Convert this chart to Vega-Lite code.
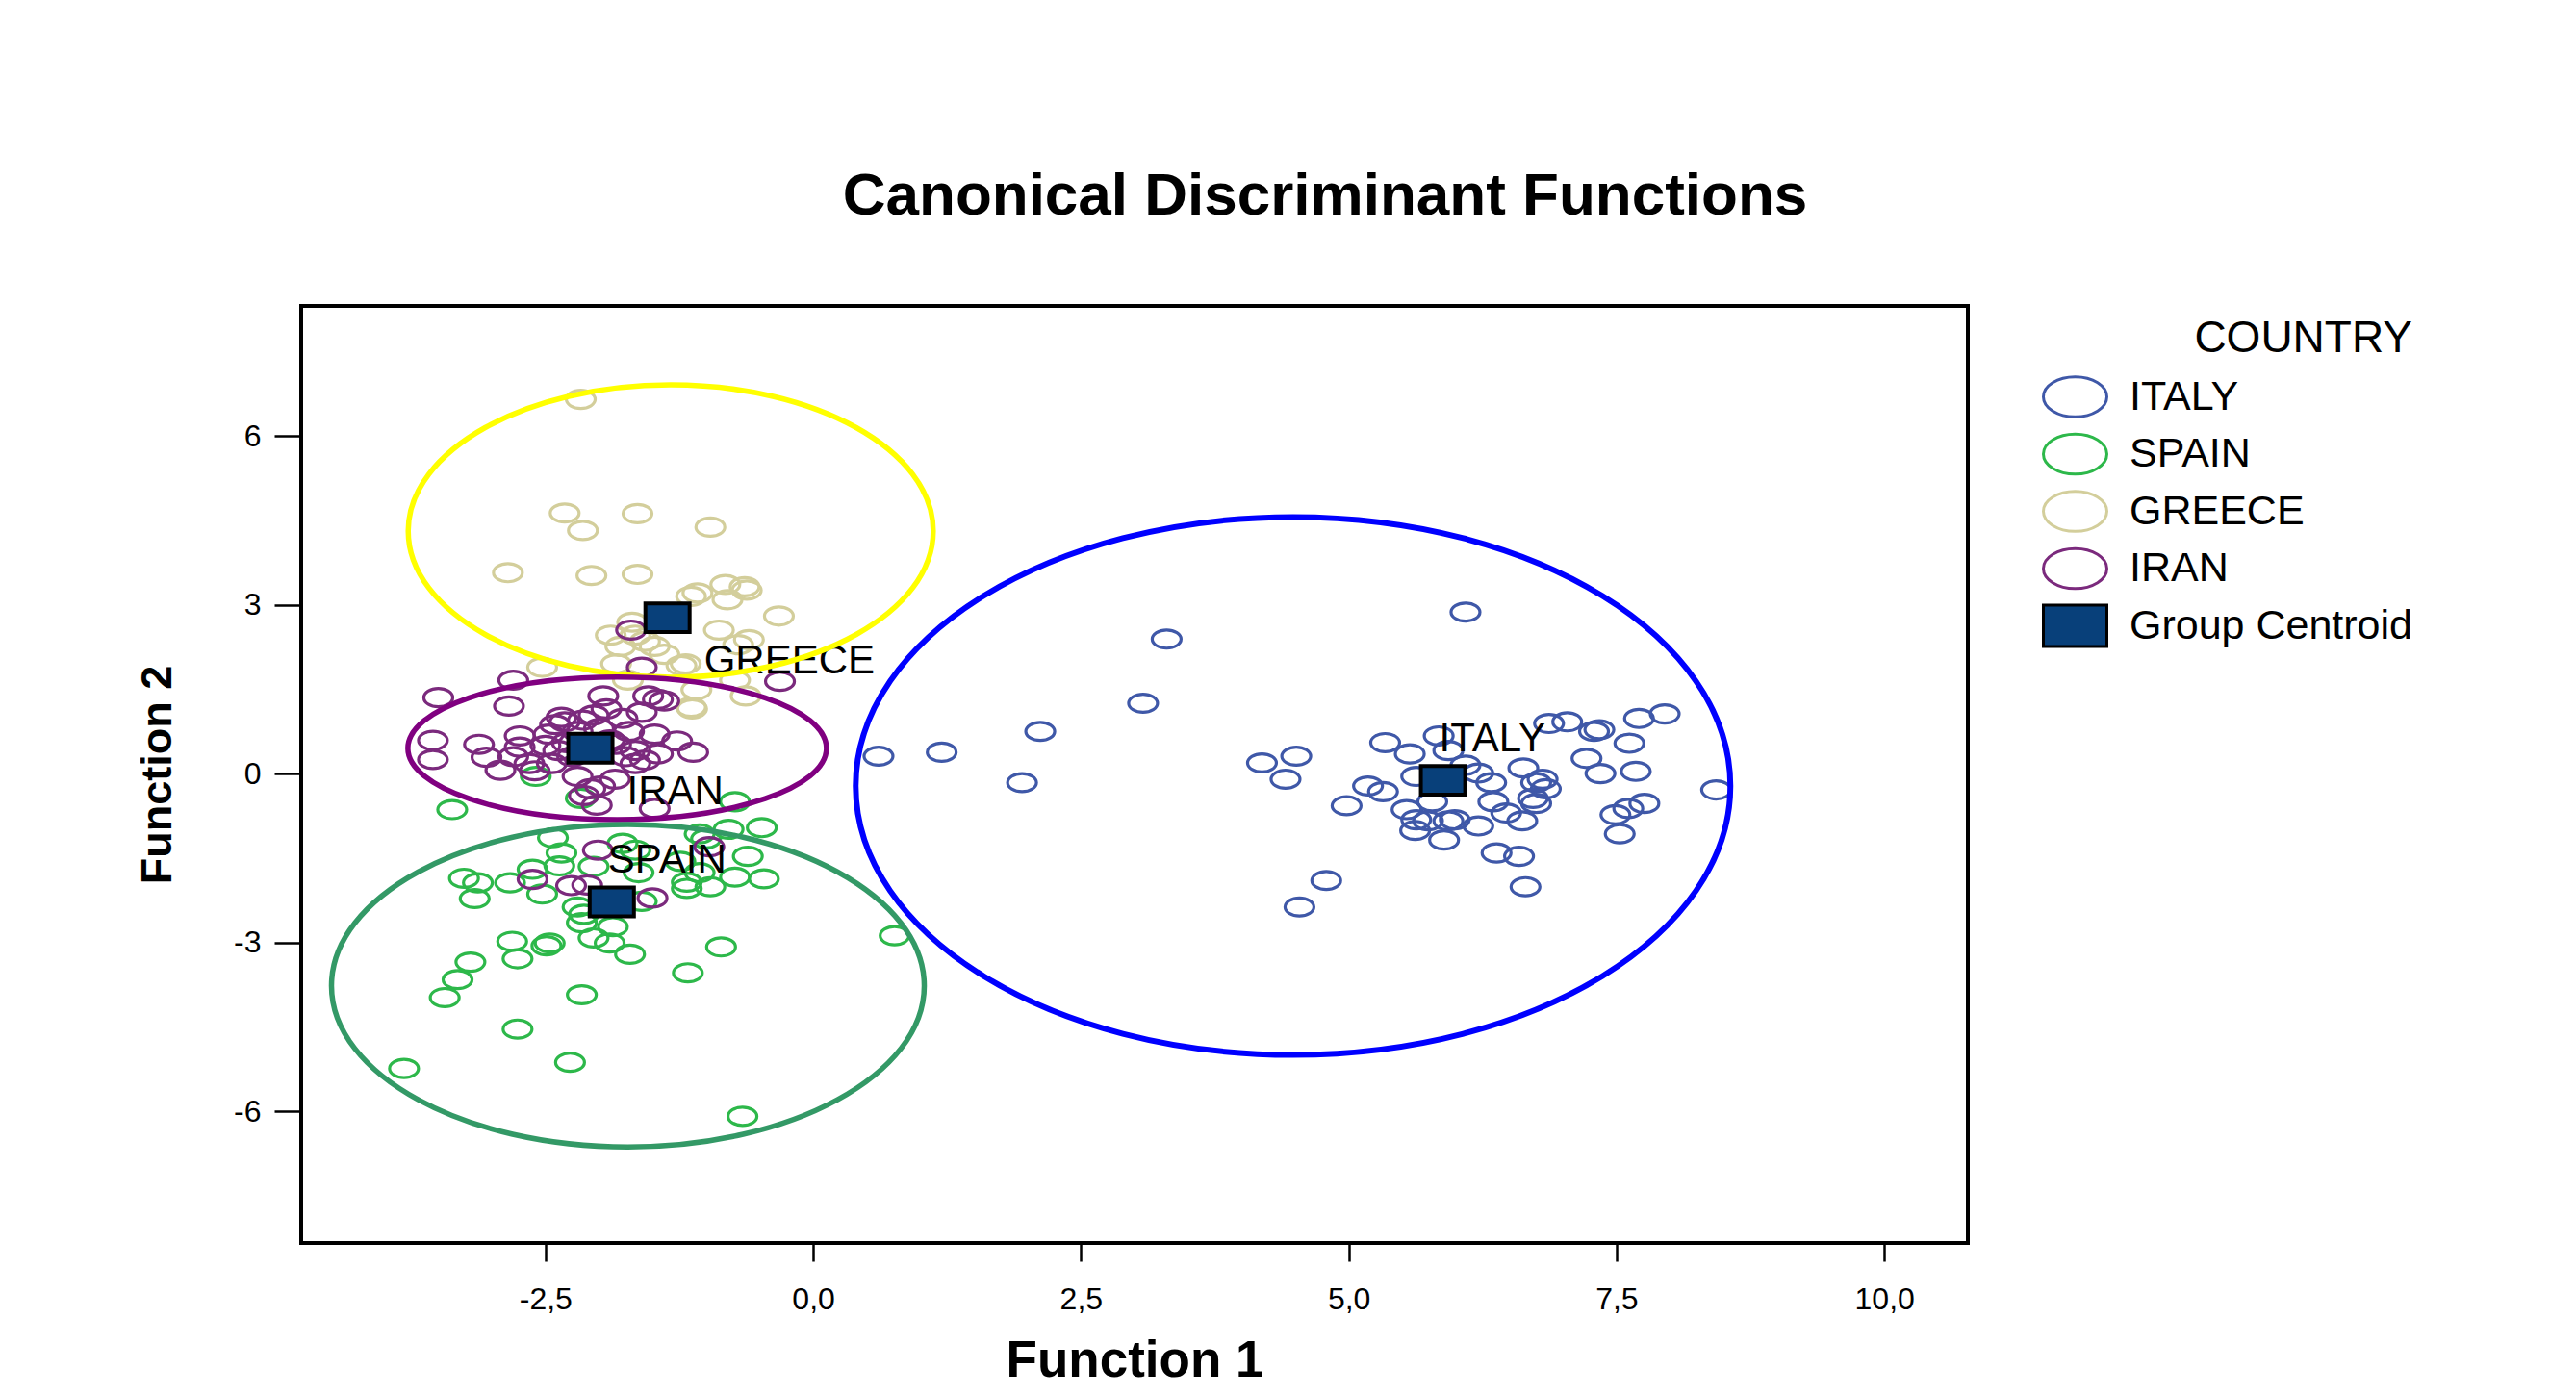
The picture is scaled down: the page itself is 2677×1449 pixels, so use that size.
{
  "$schema": "https://vega.github.io/schema/vega-lite/v6.json",
  "width": 1732,
  "height": 974,
  "autosize": {"type": "none"},
  "padding": {"left": 313, "top": 318, "right": 632, "bottom": 157},
  "background": "white",
  "title": {"text": "Canonical Discriminant Functions", "font": "Liberation Sans", "fontSize": 62, "fontWeight": "bold", "color": "black", "anchor": "middle", "frame": "group", "dx": 198, "offset": 82, "limit": 0},
  "config": {
    "view": {"stroke": "black", "strokeWidth": 4},
    "font": "Liberation Sans",
    "axis": {"domain": false, "grid": false, "tickColor": "black", "tickWidth": 2.5, "labelFont": "Liberation Sans", "labelFontSize": 32, "labelColor": "black", "titleFont": "Liberation Sans", "titleFontWeight": "bold", "titleColor": "black"},
    "axisX": {"tickSize": 19, "labelPadding": 24, "titlePadding": 22, "titleFontSize": 53},
    "axisY": {"tickSize": 28, "labelPadding": 14, "titlePadding": 56, "titleFontSize": 45},
    "legend": {"orient": "none", "legendX": 1809, "legendY": 12, "padding": 0, "titleFont": "Liberation Sans", "titleFontSize": 46, "titleFontWeight": "normal", "titleColor": "black", "titleAnchor": "end", "titlePadding": 11.5, "titleLimit": 0, "labelFont": "Liberation Sans", "labelFontSize": 43, "labelColor": "black", "labelLimit": 0, "symbolSize": 4356, "symbolStrokeWidth": 3, "labelOffset": 22, "clipHeight": 50, "rowPadding": 9.5}
  },
  "datasets": {
    "pts": [
      {"g":"ITALY","f1":3.30,"f2":2.39},{"g":"ITALY","f1":3.08,"f2":1.25},{"g":"ITALY","f1":2.12,"f2":0.75},{"g":"ITALY","f1":0.61,"f2":0.31},{"g":"ITALY","f1":1.20,"f2":0.38},{"g":"ITALY","f1":1.95,"f2":-0.16},{"g":"ITALY","f1":4.19,"f2":0.19},{"g":"ITALY","f1":4.51,"f2":0.31},{"g":"ITALY","f1":4.41,"f2":-0.10},{"g":"ITALY","f1":4.54,"f2":-2.37},{"g":"ITALY","f1":4.79,"f2":-1.90},{"g":"ITALY","f1":6.09,"f2":2.87},
      {"g":"ITALY","f1":5.34,"f2":0.55},{"g":"ITALY","f1":5.57,"f2":0.35},{"g":"ITALY","f1":5.84,"f2":0.67},{"g":"ITALY","f1":5.93,"f2":0.41},{"g":"ITALY","f1":5.63,"f2":-0.05},{"g":"ITALY","f1":5.18,"f2":-0.22},{"g":"ITALY","f1":5.32,"f2":-0.32},{"g":"ITALY","f1":4.98,"f2":-0.57},{"g":"ITALY","f1":5.54,"f2":-0.64},{"g":"ITALY","f1":5.63,"f2":-0.82},{"g":"ITALY","f1":5.62,"f2":-1.01},{"g":"ITALY","f1":5.78,"f2":-0.50},{"g":"ITALY","f1":5.89,"f2":-1.18},{"g":"ITALY","f1":5.93,"f2":-0.84},{"g":"ITALY","f1":5.99,"f2":-0.82},{"g":"ITALY","f1":6.21,"f2":-0.93},{"g":"ITALY","f1":6.09,"f2":0.15},{"g":"ITALY","f1":6.21,"f2":0.01},{"g":"ITALY","f1":6.33,"f2":-0.16},{"g":"ITALY","f1":6.35,"f2":-0.50},{"g":"ITALY","f1":6.47,"f2":-0.70},{"g":"ITALY","f1":6.62,"f2":-0.84},{"g":"ITALY","f1":6.63,"f2":0.10},{"g":"ITALY","f1":6.75,"f2":-0.53},{"g":"ITALY","f1":6.81,"f2":-0.10},{"g":"ITALY","f1":6.84,"f2":-0.27},{"g":"ITALY","f1":6.87,"f2":0.89},{"g":"ITALY","f1":7.04,"f2":0.92},{"g":"ITALY","f1":7.29,"f2":0.75},{"g":"ITALY","f1":7.34,"f2":0.78},{"g":"ITALY","f1":7.22,"f2":0.27},{"g":"ITALY","f1":7.35,"f2":0.00},{"g":"ITALY","f1":7.62,"f2":0.54},{"g":"ITALY","f1":7.71,"f2":0.98},{"g":"ITALY","f1":7.95,"f2":1.06},{"g":"ITALY","f1":7.68,"f2":0.04},{"g":"ITALY","f1":7.49,"f2":-0.73},{"g":"ITALY","f1":7.61,"f2":-0.62},{"g":"ITALY","f1":7.76,"f2":-0.53},{"g":"ITALY","f1":7.53,"f2":-1.07},{"g":"ITALY","f1":8.43,"f2":-0.29},{"g":"ITALY","f1":6.38,"f2":-1.41},{"g":"ITALY","f1":6.59,"f2":-1.47},{"g":"ITALY","f1":6.65,"f2":-2.01},{"g":"ITALY","f1":5.74,"f2":-0.84},{"g":"ITALY","f1":6.75,"f2":-0.16},{"g":"ITALY","f1":6.72,"f2":-0.44},
      {"g":"SPAIN","f1":-3.37,"f2":-0.64},{"g":"SPAIN","f1":-2.43,"f2":-1.14},{"g":"SPAIN","f1":-2.35,"f2":-1.41},{"g":"SPAIN","f1":-2.37,"f2":-1.64},{"g":"SPAIN","f1":-2.62,"f2":-1.70},{"g":"SPAIN","f1":-3.26,"f2":-1.86},{"g":"SPAIN","f1":-3.13,"f2":-1.94},{"g":"SPAIN","f1":-2.83,"f2":-1.94},{"g":"SPAIN","f1":-3.16,"f2":-2.22},{"g":"SPAIN","f1":-2.53,"f2":-2.14},{"g":"SPAIN","f1":-2.05,"f2":-1.65},{"g":"SPAIN","f1":-2.20,"f2":-2.37},{"g":"SPAIN","f1":-2.14,"f2":-2.50},{"g":"SPAIN","f1":-2.16,"f2":-2.65},{"g":"SPAIN","f1":-1.87,"f2":-2.72},{"g":"SPAIN","f1":-2.05,"f2":-2.92},{"g":"SPAIN","f1":-1.90,"f2":-3.01},{"g":"SPAIN","f1":-1.71,"f2":-3.21},{"g":"SPAIN","f1":-2.81,"f2":-2.98},{"g":"SPAIN","f1":-2.76,"f2":-3.29},{"g":"SPAIN","f1":-2.49,"f2":-3.06},{"g":"SPAIN","f1":-2.46,"f2":-3.01},{"g":"SPAIN","f1":-3.20,"f2":-3.35},{"g":"SPAIN","f1":-3.32,"f2":-3.66},{"g":"SPAIN","f1":-3.44,"f2":-3.98},{"g":"SPAIN","f1":-2.16,"f2":-3.93},{"g":"SPAIN","f1":-2.76,"f2":-4.54},{"g":"SPAIN","f1":-3.82,"f2":-5.24},{"g":"SPAIN","f1":-2.27,"f2":-5.13},{"g":"SPAIN","f1":-0.66,"f2":-6.09},{"g":"SPAIN","f1":-0.86,"f2":-3.08},{"g":"SPAIN","f1":-1.17,"f2":-3.54},{"g":"SPAIN","f1":-1.66,"f2":-1.36},{"g":"SPAIN","f1":-1.63,"f2":-1.76},{"g":"SPAIN","f1":-1.24,"f2":-1.56},{"g":"SPAIN","f1":-1.18,"f2":-1.93},{"g":"SPAIN","f1":-1.18,"f2":-2.04},{"g":"SPAIN","f1":-0.96,"f2":-2.01},{"g":"SPAIN","f1":-1.00,"f2":-1.16},{"g":"SPAIN","f1":-0.79,"f2":-0.99},{"g":"SPAIN","f1":-0.48,"f2":-0.96},{"g":"SPAIN","f1":-0.61,"f2":-1.47},{"g":"SPAIN","f1":-0.73,"f2":-1.84},{"g":"SPAIN","f1":-0.46,"f2":-1.87},{"g":"SPAIN","f1":-1.60,"f2":-2.27},{"g":"SPAIN","f1":-1.06,"f2":-1.76},{"g":"SPAIN","f1":-1.78,"f2":-1.24},{"g":"SPAIN","f1":-2.59,"f2":-0.05},{"g":"SPAIN","f1":-2.17,"f2":-0.44},{"g":"SPAIN","f1":-0.73,"f2":-0.50},{"g":"SPAIN","f1":-1.06,"f2":-1.07},{"g":"SPAIN","f1":0.76,"f2":-2.88},
      {"g":"GREECE","f1":-2.17,"f2":6.65},{"g":"GREECE","f1":-2.32,"f2":4.63},{"g":"GREECE","f1":-2.15,"f2":4.32},{"g":"GREECE","f1":-1.64,"f2":4.62},{"g":"GREECE","f1":-0.96,"f2":4.38},{"g":"GREECE","f1":-2.85,"f2":3.57},{"g":"GREECE","f1":-2.07,"f2":3.52},{"g":"GREECE","f1":-1.64,"f2":3.54},{"g":"GREECE","f1":-1.14,"f2":3.15},{"g":"GREECE","f1":-1.08,"f2":3.21},{"g":"GREECE","f1":-0.82,"f2":3.36},{"g":"GREECE","f1":-0.64,"f2":3.32},{"g":"GREECE","f1":-0.62,"f2":3.26},{"g":"GREECE","f1":-0.80,"f2":3.09},{"g":"GREECE","f1":-0.32,"f2":2.80},{"g":"GREECE","f1":-0.88,"f2":2.55},{"g":"GREECE","f1":-0.60,"f2":2.38},{"g":"GREECE","f1":-0.70,"f2":2.29},{"g":"GREECE","f1":-1.69,"f2":2.69},{"g":"GREECE","f1":-1.89,"f2":2.46},{"g":"GREECE","f1":-1.80,"f2":2.26},{"g":"GREECE","f1":-1.48,"f2":2.26},{"g":"GREECE","f1":-1.57,"f2":2.35},{"g":"GREECE","f1":-1.84,"f2":1.95},{"g":"GREECE","f1":-1.23,"f2":1.92},{"g":"GREECE","f1":-2.53,"f2":1.89},{"g":"GREECE","f1":-1.13,"f2":1.15},{"g":"GREECE","f1":-0.63,"f2":1.38},{"g":"GREECE","f1":-1.09,"f2":1.49},{"g":"GREECE","f1":-0.73,"f2":1.66},{"g":"GREECE","f1":-1.73,"f2":1.66},{"g":"GREECE","f1":-1.19,"f2":1.95},{"g":"GREECE","f1":-1.14,"f2":1.18},{"g":"GREECE","f1":-1.66,"f2":2.46},{"g":"GREECE","f1":-1.39,"f2":2.12},
      {"g":"IRAN","f1":-3.50,"f2":1.35},{"g":"IRAN","f1":-2.80,"f2":1.66},{"g":"IRAN","f1":-2.84,"f2":1.20},{"g":"IRAN","f1":-3.55,"f2":0.59},{"g":"IRAN","f1":-3.55,"f2":0.25},{"g":"IRAN","f1":-3.12,"f2":0.52},{"g":"IRAN","f1":-3.05,"f2":0.29},{"g":"IRAN","f1":-2.92,"f2":0.06},{"g":"IRAN","f1":-2.74,"f2":0.67},{"g":"IRAN","f1":-2.74,"f2":0.47},{"g":"IRAN","f1":-2.80,"f2":0.30},{"g":"IRAN","f1":-2.65,"f2":0.18},{"g":"IRAN","f1":-2.41,"f2":0.87},{"g":"IRAN","f1":-2.32,"f2":0.92},{"g":"IRAN","f1":-2.47,"f2":0.70},{"g":"IRAN","f1":-2.38,"f2":0.41},{"g":"IRAN","f1":-2.44,"f2":0.18},{"g":"IRAN","f1":-2.20,"f2":-0.05},{"g":"IRAN","f1":-2.08,"f2":-0.27},{"g":"IRAN","f1":-2.14,"f2":-0.39},{"g":"IRAN","f1":-2.02,"f2":-0.56},{"g":"IRAN","f1":-1.99,"f2":-0.22},{"g":"IRAN","f1":-1.96,"f2":1.38},{"g":"IRAN","f1":-1.93,"f2":1.15},{"g":"IRAN","f1":-2.05,"f2":1.04},{"g":"IRAN","f1":-1.78,"f2":0.98},{"g":"IRAN","f1":-1.72,"f2":0.75},{"g":"IRAN","f1":-1.84,"f2":0.52},{"g":"IRAN","f1":-1.66,"f2":0.41},{"g":"IRAN","f1":-1.57,"f2":0.24},{"g":"IRAN","f1":-1.66,"f2":0.18},{"g":"IRAN","f1":-1.54,"f2":1.38},{"g":"IRAN","f1":-1.45,"f2":1.32},{"g":"IRAN","f1":-1.39,"f2":1.29},{"g":"IRAN","f1":-1.60,"f2":1.09},{"g":"IRAN","f1":-1.48,"f2":0.70},{"g":"IRAN","f1":-1.45,"f2":0.35},{"g":"IRAN","f1":-1.27,"f2":0.58},{"g":"IRAN","f1":-1.12,"f2":0.38},{"g":"IRAN","f1":-1.48,"f2":-0.62},{"g":"IRAN","f1":-1.60,"f2":1.89},{"g":"IRAN","f1":-0.31,"f2":1.64},{"g":"IRAN","f1":-1.70,"f2":2.55},{"g":"IRAN","f1":-2.01,"f2":-1.36},{"g":"IRAN","f1":-0.97,"f2":-1.30},{"g":"IRAN","f1":-2.62,"f2":-1.88},{"g":"IRAN","f1":-2.26,"f2":-1.99},{"g":"IRAN","f1":-2.11,"f2":-1.98},{"g":"IRAN","f1":-1.50,"f2":-2.21},{"g":"IRAN","f1":-2.30,"f2":0.55},{"g":"IRAN","f1":-2.20,"f2":0.75},{"g":"IRAN","f1":-2.00,"f2":0.80},{"g":"IRAN","f1":-2.25,"f2":0.30},{"g":"IRAN","f1":-1.90,"f2":0.60},{"g":"IRAN","f1":-2.15,"f2":0.95},{"g":"IRAN","f1":-1.75,"f2":0.30},{"g":"IRAN","f1":-2.50,"f2":0.50},{"g":"IRAN","f1":-2.60,"f2":0.05},{"g":"IRAN","f1":-1.85,"f2":-0.10},{"g":"IRAN","f1":-2.35,"f2":1.00}
    ],
    "cent": [
      {"g":"Group Centroid","name":"ITALY","f1":5.88,"f2":-0.12},
      {"g":"Group Centroid","name":"SPAIN","f1":-1.88,"f2":-2.28},
      {"g":"Group Centroid","name":"GREECE","f1":-1.36,"f2":2.77},
      {"g":"Group Centroid","name":"IRAN","f1":-2.08,"f2":0.45}
    ]
  },
  "encoding": {
    "x": {"field": "f1", "type": "quantitative", "scale": {"domain": [-4.78, 10.78], "nice": false, "zero": false}, "axis": {"title": "Function 1", "values": [-2.5, 0, 2.5, 5, 7.5, 10], "labelExpr": "replace(replace(format(datum.value, '.1f'), '.', ','), '\u2212', '-')"}},
    "y": {"field": "f2", "type": "quantitative", "scale": {"domain": [-8.34, 8.31], "nice": false, "zero": false}, "axis": {"title": "Function 2", "values": [-6, -3, 0, 3, 6], "labelExpr": "replace(format(datum.value, 'd'), '\u2212', '-')"}}
  },
  "layer": [
    {
      "data": {"name": "pts"},
      "mark": {"type": "point", "filled": true, "size": 900, "strokeWidth": 3.2, "opacity": 1},
      "encoding": {
        "fill": {"field": "g", "type": "nominal", "title": "COUNTRY", "scale": {"domain": ["ITALY", "SPAIN", "GREECE", "IRAN", "Group Centroid"], "range": ["transparent", "transparent", "transparent", "transparent", "#08407a"]}},
        "stroke": {"field": "g", "type": "nominal", "title": "COUNTRY", "scale": {"domain": ["ITALY", "SPAIN", "GREECE", "IRAN", "Group Centroid"], "range": ["#3f58a8", "#2db84a", "#d3ce9b", "#7b2a7d", "#000000"]}},
        "shape": {"field": "g", "type": "nominal", "title": "COUNTRY", "scale": {"domain": ["ITALY", "SPAIN", "GREECE", "IRAN", "Group Centroid"], "range": [
          "M-1,0C-1,-0.348,-0.552,-0.63,0,-0.63C0.552,-0.63,1,-0.348,1,0C1,0.348,0.552,0.63,0,0.63C-0.552,0.63,-1,0.348,-1,0Z",
          "M-1,0C-1,-0.348,-0.552,-0.63,0,-0.63C0.552,-0.63,1,-0.348,1,0C1,0.348,0.552,0.63,0,0.63C-0.552,0.63,-1,0.348,-1,0Z",
          "M-1,0C-1,-0.348,-0.552,-0.63,0,-0.63C0.552,-0.63,1,-0.348,1,0C1,0.348,0.552,0.63,0,0.63C-0.552,0.63,-1,0.348,-1,0Z",
          "M-1,0C-1,-0.348,-0.552,-0.63,0,-0.63C0.552,-0.63,1,-0.348,1,0C1,0.348,0.552,0.63,0,0.63C-0.552,0.63,-1,0.348,-1,0Z",
          "M-1,-0.65L1,-0.65L1,0.65L-1,0.65Z"]}}
      }
    },
    {
      "data": {"name": "cent"},
      "mark": {"type": "point", "filled": true, "size": 2116, "strokeWidth": 4, "opacity": 1},
      "encoding": {
        "fill": {"field": "g", "type": "nominal", "title": "COUNTRY"},
        "stroke": {"field": "g", "type": "nominal", "title": "COUNTRY"},
        "shape": {"field": "g", "type": "nominal", "title": "COUNTRY"}
      }
    },
    {
      "data": {"name": "cent"},
      "transform": [{"filter": "datum.name == 'GREECE' || datum.name == 'IRAN'"}],
      "mark": {"type": "text", "align": "left", "baseline": "alphabetic", "dx": 38, "dy": 58, "font": "Liberation Sans", "fontSize": 42, "color": "black"},
      "encoding": {"text": {"field": "name"}}
    },
    {
      "data": {"name": "cent"},
      "transform": [{"filter": "datum.name == 'SPAIN' || datum.name == 'ITALY'"}],
      "mark": {"type": "text", "align": "left", "baseline": "alphabetic", "dx": -4, "dy": -30, "font": "Liberation Sans", "fontSize": 42, "color": "black"},
      "encoding": {"text": {"field": "name"}}
    },
    {
      "data": {"values": [{"f1": -1.33, "f2": 4.31}]},
      "mark": {"type": "point", "filled": false, "opacity": 1, "stroke": "#ffff00", "strokeWidth": 5.5, "size": 297680, "shape": "M-1,0C-1,-0.308,-0.552,-0.557,0,-0.557C0.552,-0.557,1,-0.308,1,0C1,0.308,0.552,0.557,0,0.557C-0.552,0.557,-1,0.308,-1,0Z"}
    },
    {
      "data": {"values": [{"f1": -1.83, "f2": 0.45}]},
      "mark": {"type": "point", "filled": false, "opacity": 1, "stroke": "#800080", "strokeWidth": 5.5, "size": 189225, "shape": "M-1,0C-1,-0.188,-0.552,-0.341,0,-0.341C0.552,-0.341,1,-0.188,1,0C1,0.188,0.552,0.341,0,0.341C-0.552,0.341,-1,0.188,-1,0Z"}
    },
    {
      "data": {"values": [{"f1": -1.73, "f2": -3.77}]},
      "mark": {"type": "point", "filled": false, "opacity": 1, "stroke": "#339966", "strokeWidth": 5.5, "size": 379456, "shape": "M-1,0C-1,-0.3,-0.552,-0.544,0,-0.544C0.552,-0.544,1,-0.3,1,0C1,0.3,0.552,0.544,0,0.544C-0.552,0.544,-1,0.3,-1,0Z"}
    },
    {
      "data": {"values": [{"f1": 4.48, "f2": -0.22}]},
      "mark": {"type": "point", "filled": false, "opacity": 1, "stroke": "#0000ff", "strokeWidth": 6, "size": 826281, "shape": "M-1,0C-1,-0.34,-0.552,-0.615,0,-0.615C0.552,-0.615,1,-0.34,1,0C1,0.34,0.552,0.615,0,0.615C-0.552,0.615,-1,0.34,-1,0Z"}
    }
  ]
}
